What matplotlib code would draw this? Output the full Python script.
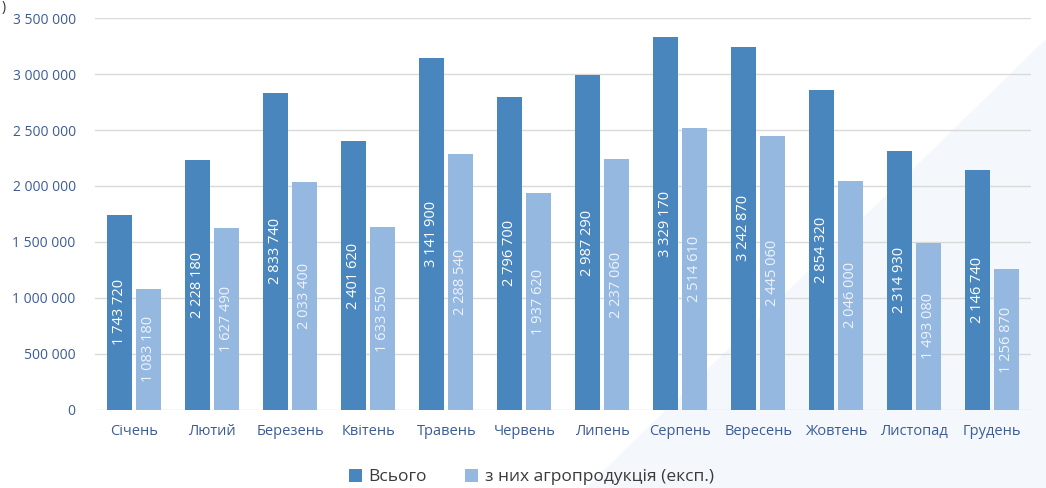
import numpy as np
import matplotlib
matplotlib.use("Agg")
from matplotlib import pyplot as plt
from matplotlib.patches import Polygon

months = ["Січень", "Лютий", "Березень", "Квітень", "Травень", "Червень",
          "Липень", "Серпень", "Вересень", "Жовтень", "Листопад", "Грудень"]
total = [1743720, 2228180, 2833740, 2401620, 3141900, 2796700,
         2987290, 3329170, 3242870, 2854320, 2314930, 2146740]
agro = [1083180, 1627490, 2033400, 1633550, 2288540, 1937620,
        2237060, 2514610, 2445060, 2046000, 1493080, 1256870]
series_names = ["Всього", "з них агропродукція (експ.)"]
yticks = [0, 500000, 1000000, 1500000, 2000000, 2500000, 3000000, 3500000]

DARK = "#4a86be"
LIGHT = "#95b8e1"
TXT = "#3c5c96"


def fmt(v):
    return f"{v:,}".replace(",", " ")


def main():
    plt.rcParams['font.family'] = ['Open Sans', 'DejaVu Sans']
    fig = plt.figure(figsize=(10.46, 4.88), dpi=100)

    # faint background swoosh
    bg = fig.add_axes([0, 0, 1, 1], zorder=-1)
    bg.set_xlim(0, 1)
    bg.set_ylim(0, 1)
    bg.axis('off')
    bg.add_patch(Polygon([[0.56, 0.0], [1.0, 0.92], [1.0, 0.0]],
                         closed=True, color="#f4f8fc", lw=0))
    bg.text(0.002, 0.985, ")", fontsize=10, color="#333333", va='center')

    ax = fig.add_axes([0.091, 0.16, 0.895, 0.803])
    ax.patch.set_alpha(0)
    x = np.arange(len(months))
    w = 0.32
    g = 0.025
    b1 = ax.bar(x - w / 2 - g, total, w, color=DARK, label=series_names[0], zorder=2)
    b2 = ax.bar(x + w / 2 + g, agro, w, color=LIGHT, label=series_names[1], zorder=2)

    for rect, v in zip(b1, total):
        ax.text(rect.get_x() + rect.get_width() / 2, v / 2, fmt(v), rotation=90,
                ha='center', va='center', color="white", fontsize=10.5, zorder=3)
    for rect, v in zip(b2, agro):
        ax.text(rect.get_x() + rect.get_width() / 2, v / 2, fmt(v), rotation=90,
                ha='center', va='center', color="#eef3fa", fontsize=10.5, zorder=3)

    ax.set_ylim(0, 3500000)
    ax.set_xlim(-0.5, len(months) - 0.5)
    ax.set_yticks(yticks)
    ax.set_yticklabels([fmt(t) for t in yticks])
    ax.set_xticks(x)
    ax.set_xticklabels(months)
    ax.tick_params(axis='both', length=0, colors=TXT, labelsize=10)
    ax.tick_params(axis='x', pad=10, labelsize=10.5)
    ax.tick_params(axis='y', pad=14)
    ax.grid(axis='y', color="#d9d9d9", lw=1, zorder=0)
    for s in ax.spines.values():
        s.set_visible(False)

    fig.legend(handles=[b1, b2], labels=series_names, loc='center',
               bbox_to_anchor=(0.508, 0.022), ncol=2, frameon=False,
               fontsize=12.5, handlelength=0.75, handleheight=0.75,
               columnspacing=2.2, handletextpad=0.4, labelcolor="#3a3a3a")

    fig.savefig("out.png", dpi=100)
    plt.close(fig)


if __name__ == '__main__':
    main()
